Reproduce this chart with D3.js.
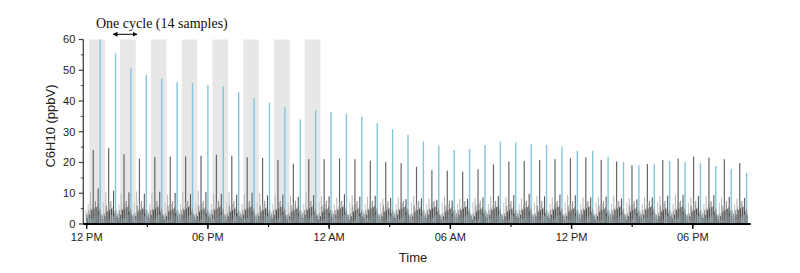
<!DOCTYPE html>
<html>
<head>
<meta charset="utf-8">
<script src="https://cdn.jsdelivr.net/npm/d3@7"></script>
<style>
  body { margin: 0; background: #fff; }
  svg text { font-family: "Liberation Sans", Arial, sans-serif; }
</style>
</head>
<body>
<div id="chart"></div>
<script>
// tall blue spike, one per group of 7 samples (ppbV)
const bluePeaks = [60, 55.5, 50.6, 48.4, 47.3, 46.1, 45.8, 45.2, 44.8, 43.0, 41.0, 39.5, 38.0, 34.0, 37.0,
  36.5, 35.8, 34.8, 32.8, 30.8, 29.0, 26.8, 25.5, 24.1, 24.4, 25.7, 26.8, 26.5, 25.9, 25.7, 25.2,
  23.8, 23.8, 21.9, 20.2, 19.1, 19.5, 20.5, 20.2, 19.8, 18.9, 17.9, 16.7];
// tall gray spike, 3 samples before each blue one
const grayPeaks = [24.1, 24.7, 22.7, 21.2, 21.8, 21.9, 22.0, 22.2, 22.5, 22.2, 21.7, 21.5, 20.8, 19.6, 21.1,
  21.1, 21.3, 21.1, 20.6, 20.2, 19.8, 18.6, 17.5, 17.4, 17.0, 17.8, 19.4, 20.3, 20.5, 20.8,
  21.1, 21.4, 21.7, 20.8, 20.3, 19.1, 19.5, 20.8, 21.3, 21.9, 21.6, 21.1, 19.8];
// secondary spikes in each group
const lightSecond = [10.2, 10.5, 9.8, 10.6, 10.1, 9.5, 10.4, 10.8, 9.9, 10.3, 9.6, 10.0, 9.4, 9.1, 10.2,
  9.0, 8.6, 9.3, 8.8, 8.2, 8.7, 9.1, 8.4, 8.9, 8.1, 8.6, 9.2, 8.8, 8.3, 9.0, 8.7, 9.4, 8.5, 8.9,
  9.2, 8.4, 8.8, 9.1, 9.5, 8.7, 9.0, 8.6, 8.2];
const darkSecond = [11.6, 10.8, 10.3, 9.9, 10.5, 10.1, 9.7, 10.4, 9.8, 9.5, 10.2, 9.3, 9.6, 8.8, 9.4,
  9.0, 9.7, 8.9, 9.2, 8.5, 8.1, 8.4, 7.9, 7.6, 8.2, 8.6, 9.1, 9.4, 9.8, 9.0, 9.6, 9.3, 8.7, 8.9,
  8.3, 8.0, 8.6, 9.2, 9.5, 9.1, 9.4, 8.8, 8.5];
// background levels over one cycle of 14 samples
const lightBase = [4.5, 6.5, 5.0, 6.0, 7.0, 5.5, 4.0, 3.5, 7.0, 5.5, 5.0, 6.5, 4.5, 3.5];
const midBase   = [3.0, 4.5, 5.0, 7.0, 7.5, 6.0, 5.0, 2.5, 3.5, 6.0, 6.5, 7.5, 5.5, 4.5];
const darkBase  = [2.0, 3.0, 4.5, 5.0, 5.5, 4.0, 3.0, 1.5, 2.5, 4.0, 4.5, 5.0, 3.5, 2.5];
const steelBase = [3.5, 2.0, 1.5, 2.0, 2.5, 3.0, 4.5, 3.0, 1.5, 1.0, 1.5, 3.0, 2.5, 4.0];
// shaded cycles at the start of the run
const shadedCycles = [0, 1, 2, 3, 4, 5, 6, 7];
const yTicks = [0, 10, 20, 30, 40, 50, 60];
const xTickTimes = ["2019-07-01T12:00", "2019-07-01T18:00", "2019-07-02T00:00",
  "2019-07-02T06:00", "2019-07-02T12:00", "2019-07-02T18:00"];

const start = new Date("2019-07-01T12:00");
const sampleMin = 6.53;
const sampleTime = i => new Date(start.getTime() + i * sampleMin * 60000);

const width = 800, height = 273;
const svg = d3.select("#chart").append("svg")
  .attr("width", width).attr("height", height);

const x = d3.scaleTime()
  .domain([new Date("2019-07-01T11:50"), new Date("2019-07-02T20:52")])
  .range([83.3, 750.7]);
const y = d3.scaleLinear().domain([0, 60]).range([224, 39.5]);

// shading
svg.append("g").selectAll("rect")
  .data(shadedCycles)
  .join("rect")
  .attr("x", m => x(sampleTime(14 * m + 1.2)))
  .attr("width", m => x(sampleTime(14 * m + 8.3)) - x(sampleTime(14 * m + 1.2)))
  .attr("y", y(60))
  .attr("height", y(0) - y(60))
  .attr("fill", "#e7e7e7");

const bars = svg.append("g");
function drawBars(pts, color, w, off) {
  bars.append("g").selectAll("rect")
    .data(pts)
    .join("rect")
    .attr("x", d => x(sampleTime(d.i)) + off - w / 2)
    .attr("width", w)
    .attr("y", d => y(d.v))
    .attr("height", d => y(0) - y(d.v))
    .attr("fill", color);
}

const N = bluePeaks.length * 7;
const idx = d3.range(N);
const fromBase = arr => idx.map(i => ({ i, v: arr[i % 14] }));
const atPos = (arr, p) => arr.map((v, k) => ({ i: 7 * k + p, v }));

drawBars(fromBase(lightBase), "#c9c9c9", 1.1, -0.7);
drawBars(atPos(lightSecond, 2), "#bcbcbc", 1.1, -0.6);
drawBars(atPos(grayPeaks, 3), "#666666", 1.2, 0);
drawBars(atPos(bluePeaks, 6), "#84c5dc", 1.4, 0.3);
drawBars(fromBase(midBase), "#909090", 1.0, 0);
drawBars(atPos(darkSecond, 5), "#5a5a5a", 1.1, 0.5);
drawBars(fromBase(darkBase), "#4a4a4a", 1.0, 0.7);
drawBars(fromBase(steelBase), "#7f98a3", 0.9, 0.4);

// y axis
const yAxis = svg.append("g").attr("transform", "translate(83.3,0)");
yAxis.append("line").attr("y1", y(60)).attr("y2", y(0)).attr("stroke", "#444").attr("stroke-width", 1.3);
yAxis.selectAll(".minor").data(d3.range(5, 60, 10)).join("line")
  .attr("x1", -2.5).attr("x2", 0).attr("y1", d => y(d)).attr("y2", d => y(d))
  .attr("stroke", "#444").attr("stroke-width", 1);
yAxis.selectAll(".major").data(yTicks).join("line")
  .attr("x1", -4.5).attr("x2", 0).attr("y1", d => y(d)).attr("y2", d => y(d))
  .attr("stroke", "#444").attr("stroke-width", 1.2);
yAxis.selectAll("text").data(yTicks).join("text")
  .attr("x", -8).attr("y", d => y(d)).attr("dy", "0.35em")
  .attr("text-anchor", "end").attr("font-size", 11).attr("fill", "#222")
  .text(d => d);

// x axis
const fmt = d3.timeFormat("%I %p");
const xAxis = svg.append("g");
const minorX = d3.timeHour.every(3).range(x.domain()[0], x.domain()[1]);
xAxis.selectAll(".minor").data(minorX).join("line")
  .attr("x1", d => x(d)).attr("x2", d => x(d)).attr("y1", y(0)).attr("y2", y(0) + 3)
  .attr("stroke", "#111").attr("stroke-width", 1.2);
xAxis.selectAll(".major").data(xTickTimes.map(s => new Date(s))).join("line")
  .attr("x1", d => x(d)).attr("x2", d => x(d)).attr("y1", y(0)).attr("y2", y(0) + 5)
  .attr("stroke", "#111").attr("stroke-width", 1.4);
xAxis.selectAll("text").data(xTickTimes.map(s => new Date(s))).join("text")
  .attr("x", d => x(d)).attr("y", 241)
  .attr("text-anchor", "middle").attr("font-size", 11).attr("fill", "#222")
  .text(d => fmt(d));
xAxis.append("line").attr("x1", 83.3).attr("x2", 750.7).attr("y1", y(0)).attr("y2", y(0))
  .attr("stroke", "#000").attr("stroke-width", 2.2);

// titles
svg.append("text").attr("x", 413).attr("y", 262).attr("text-anchor", "middle")
  .attr("font-size", 13).attr("fill", "#222").text("Time");
svg.append("text").attr("transform", "translate(54.5,126) rotate(-90)")
  .attr("text-anchor", "middle").attr("font-size", 13).attr("fill", "#222").text("C6H10 (ppbV)");

// cycle annotation
svg.append("text").attr("x", 96).attr("y", 28)
  .style("font-family", "'Liberation Serif', 'Times New Roman', serif")
  .attr("font-size", 14).attr("fill", "#111").text("One cycle (14 samples)");
const defs = svg.append("defs");
defs.append("marker").attr("id", "ah").attr("viewBox", "0 0 10 10")
  .attr("refX", 9).attr("refY", 5).attr("markerWidth", 5).attr("markerHeight", 5)
  .attr("orient", "auto-start-reverse")
  .append("path").attr("d", "M0,0L10,5L0,10z").attr("fill", "#000");
svg.append("line").attr("x1", 113).attr("x2", 137).attr("y1", 34.3).attr("y2", 34.3)
  .attr("stroke", "#000").attr("stroke-width", 1)
  .attr("marker-start", "url(#ah)").attr("marker-end", "url(#ah)");
</script>
</body>
</html>
